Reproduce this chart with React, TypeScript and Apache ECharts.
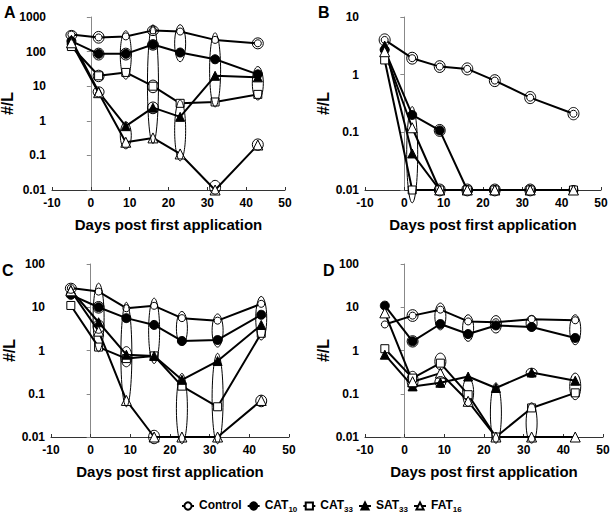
import React, { useEffect, useRef } from 'react';
import * as echarts from 'echarts';

const FONT = '"Liberation Sans", Arial, Helvetica, sans-serif';

const days = [-5, 2, 9, 16, 23, 32, 43];
const seriesNames = ['Control', 'CAT10', 'CAT33', 'SAT33', 'FAT16'];
const yTickLabels = ['0.01', '0.1', '1', '10', '100', '1000'];

// Panel A
const aControl = [310, 257, 275, 410, 380, 218, 174];
const aCAT10 = [200, 86, 86, 160, 94, 60, 22];
const aCAT33 = [140, 20, 25, 10, 3.2, 3.5, 5.8];
const aSAT33 = [220, 6.9, 0.7, 2.4, 1.3, 20, 18];
const aFAT16 = [180, 6.5, 0.24, 0.32, 0.11, 0.01, 0.2];
// [day, low, high]
const aEllipses = [
  [-5, 220, 410],
  [2, 175, 383], [2, 57, 126], [2, 13.5, 29], [2, 4.9, 9.6],
  [9, 16, 400], [9, 57, 126], [9, 0.155, 0.93],
  [16, 0.22, 600], [16, 290, 560], [16, 110, 220], [16, 6.5, 15], [16, 1.6, 3.5],
  [23, 51, 600], [23, 0.07, 4],
  [32, 2.5, 350], [32, 0.0076, 0.019],
  [43, 120, 250], [43, 4, 37], [43, 0.14, 0.3],
];

// Panel B
const bControl = [4.0, 1.93, 1.38, 1.26, 0.79, 0.4, 0.21];
const bCAT10 = [2.7, 0.2, 0.108, 0.01, 0.01, 0.01, 0.01];
const bCAT33 = [1.8, 0.01, 0.01, 0.01, 0.01, 0.01, 0.01];
const bSAT33 = [3.2, 0.043, 0.01, 0.01, 0.01, 0.01, 0.01];
const bFAT16 = [2.5, 0.12, 0.01, 0.01, 0.01, 0.01, 0.01];
const bEllipses = [
  [-5, 3.15, 5.1],
  [2, 1.52, 2.45], [2, 0.006, 0.28],
  [9, 1.09, 1.75], [9, 0.085, 0.137], [9, 0.0079, 0.0127],
  [16, 0.99, 1.6], [16, 0.0079, 0.0127],
  [23, 0.62, 1.0], [23, 0.0079, 0.0127],
  [32, 0.315, 0.51], [32, 0.0079, 0.0127],
  [43, 0.165, 0.27],
];

// Panel C
const cControl = [27.7, 23, 9.5, 10.8, 5.6, 4.9, 12];
const cCAT10 = [19.4, 10, 5.6, 3.9, 1.66, 1.75, 6.7];
const cCAT33 = [11, 1.2, 0.65, 0.75, 0.15, 0.05, 2.5];
const cSAT33 = [25, 4.5, 0.8, 0.75, 0.21, 0.57, 3.9];
const cFAT16 = [24, 2.8, 0.07, 0.01, 0.01, 0.01, 0.07];
const cEllipses = [
  [-5, 21, 36],
  [2, 0.94, 36], [2, 7.3, 13.6], [2, 2.5, 5.1],
  [9, 0.05, 13], [9, 0.42, 1.23],
  [16, 0.5, 16.2], [16, 0.007, 0.0143],
  [23, 1.34, 8], [23, 0.007, 0.295],
  [32, 1.2, 7], [32, 0.007, 0.86],
  [43, 1.75, 17.8], [43, 0.05, 0.093],
];

// Panel D
const dControl = [4.0, 6.4, 8.8, 4.7, 4.5, 5.3, 5.0];
const dCAT10 = [10.9, 1.63, 4.1, 2.4, 3.8, 3.5, 1.95];
const dCAT33 = [1.1, 0.23, 0.51, 0.095, 0.01, 0.047, 0.105];
const dSAT33 = [0.8, 0.148, 0.18, 0.25, 0.136, 0.31, 0.2];
const dFAT16 = [7.4, 0.19, 0.3, 0.067, 0.01, 0.01, 0.01];
const dEllipses = [
  [2, 4.7, 8.8], [2, 1.2, 2.2], [2, 0.124, 0.33],
  [9, 3.0, 12.5], [9, 0.36, 0.87], [9, 0.14, 0.25],
  [16, 1.63, 6.7], [16, 0.051, 0.23],
  [23, 2.54, 6.4], [23, 0.0072, 0.178],
  [32, 2.8, 6.5], [32, 0.24, 0.39], [32, 0.0072, 0.062],
  [43, 1.36, 6.7], [43, 0.073, 0.3],
];

const panels = [
  { letter: 'A', lx: 4, ly: 4, grid: { left: 52, top: 17, width: 233, height: 173 }, yMin: 0.01, yMax: 1000, nameGap: 30,
    values: [aControl, aCAT10, aCAT33, aSAT33, aFAT16], ellipses: aEllipses },
  { letter: 'B', lx: 318, ly: 4, grid: { left: 365, top: 17, width: 236, height: 173 }, yMin: 0.01, yMax: 10, nameGap: 28,
    values: [bControl, bCAT10, bCAT33, bSAT33, bFAT16], ellipses: bEllipses },
  { letter: 'C', lx: 2, ly: 262, grid: { left: 51, top: 264, width: 238, height: 173 }, yMin: 0.01, yMax: 100, nameGap: 28,
    values: [cControl, cCAT10, cCAT33, cSAT33, cFAT16], ellipses: cEllipses },
  { letter: 'D', lx: 323, ly: 262, grid: { left: 365, top: 264, width: 238, height: 173 }, yMin: 0.01, yMax: 100, nameGap: 30,
    values: [dControl, dCAT10, dCAT33, dSAT33, dFAT16], ellipses: dEllipses },
];

const markerStyles: Record<string, { symbol: string; size: number; fill: string }> = {
  Control: { symbol: 'circle', size: 7, fill: '#fff' },
  CAT10: { symbol: 'circle', size: 9, fill: '#000' },
  CAT33: { symbol: 'rect', size: 8, fill: '#fff' },
  SAT33: { symbol: 'triangle', size: 9, fill: '#000' },
  FAT16: { symbol: 'triangle', size: 10, fill: '#fff' },
};

export default function App() {
  const ref = useRef<HTMLDivElement>(null);
  useEffect(() => {
    document.body.style.margin = '0';
    const chart = echarts.init(ref.current!, null, { renderer: 'svg' });

    const grids: any[] = [];
    const xAxes: any[] = [];
    const yAxes: any[] = [];
    const series: any[] = [];
    const graphics: any[] = [];

    panels.forEach((p, i) => {
      grids.push({ ...p.grid, containLabel: false, outerBoundsMode: 'none' });
      xAxes.push({
        type: 'value', gridIndex: i, min: -10, max: 50, interval: 10,
        axisLine: { onZero: false, lineStyle: { color: '#333', width: 1 } },
        axisTick: { show: true, inside: true, length: 3, lineStyle: { color: '#333' } },
        splitLine: { show: false },
        axisLabel: { fontFamily: FONT, fontWeight: 'bold', fontSize: 12, color: '#000', margin: 7 },
        name: 'Days post first application', nameLocation: 'middle', nameGap: 27,
        nameTextStyle: { fontFamily: FONT, fontWeight: 'bold', fontSize: 15, color: '#000' },
      });
      yAxes.push({
        type: 'log', logBase: 10, gridIndex: i, min: p.yMin, max: p.yMax, position: 'left',
        axisLine: { show: false, onZero: false },
        axisTick: { show: false }, splitLine: { show: false },
        axisLabel: {
          fontFamily: FONT, fontWeight: 'bold', fontSize: 12, color: '#000', margin: 6,
          formatter: (v: number) => yTickLabels[Math.round(Math.log10(v)) + 2],
        },
        name: '#/L', nameLocation: 'middle', nameGap: p.nameGap, nameRotate: 90,
        nameTextStyle: { fontFamily: FONT, fontWeight: 'bold', fontSize: 16, color: '#000' },
      });
      yAxes.push({
        type: 'log', logBase: 10, gridIndex: i, min: p.yMin, max: p.yMax, position: 'left',
        axisLine: { show: true, onZero: true, lineStyle: { color: '#888', width: 1 } },
        axisTick: { show: true, length: 4, lineStyle: { color: '#888' } },
        axisLabel: { show: false }, splitLine: { show: false },
      });
      seriesNames.forEach((name, k) => {
        const st = markerStyles[name];
        series.push({
          type: 'line', name, xAxisIndex: i, yAxisIndex: 2 * i,
          data: days.map((d, j) => [d, p.values[k][j]]),
          symbol: st.symbol, symbolSize: st.size, showSymbol: true,
          lineStyle: { color: '#000', width: 2 },
          itemStyle: { color: st.fill, borderColor: '#000', borderWidth: 1 },
          clip: false, z: 2,
        });
      });
      series.push({
        type: 'custom', name: 'ellipses', xAxisIndex: i, yAxisIndex: 2 * i,
        data: p.ellipses, encode: { x: 0, y: [1, 2] }, silent: true, z: 3, clip: false,
        renderItem: (_params: any, api: any) => {
          const x = api.value(0);
          const p1 = api.coord([x, api.value(1)]);
          const p2 = api.coord([x, api.value(2)]);
          const cy = (p1[1] + p2[1]) / 2;
          const ry = Math.abs(p1[1] - p2[1]) / 2;
          return {
            type: 'ellipse',
            shape: { cx: p1[0], cy, rx: 5.5, ry },
            style: { fill: 'none', stroke: '#000', lineWidth: 1 },
          };
        },
      });
      graphics.push({
        type: 'text', left: p.lx, top: p.ly,
        style: { text: p.letter, font: `bold 16px ${FONT}`, fill: '#000' },
      });
    });

    chart.setOption({
      animation: false,
      backgroundColor: '#fff',
      grid: grids,
      xAxis: xAxes,
      yAxis: yAxes,
      series,
      graphic: graphics,
      legend: {
        data: seriesNames,
        left: 176, top: 494,
        itemWidth: 12, itemHeight: 9, itemGap: 5,
        formatter: (name: string) => {
          const m = name.match(/^([A-Z]+)(\d+)$/);
          return m ? `{m|${m[1]}}{s|${m[2]}}` : `{m|${name}}`;
        },
        textStyle: {
          fontFamily: FONT, fontWeight: 'bold', fontSize: 12, color: '#000',
          rich: {
            m: { fontFamily: FONT, fontWeight: 'bold', fontSize: 12, color: '#000', lineHeight: 14, verticalAlign: 'top' },
            s: { fontFamily: FONT, fontWeight: 'bold', fontSize: 8, color: '#000', lineHeight: 9, verticalAlign: 'bottom', padding: [6, 0, 0, 0] },
          },
        },
      },
    });
    return () => chart.dispose();
  }, []);
  return <div ref={ref} style={{ width: 610, height: 512 }} />;
}
